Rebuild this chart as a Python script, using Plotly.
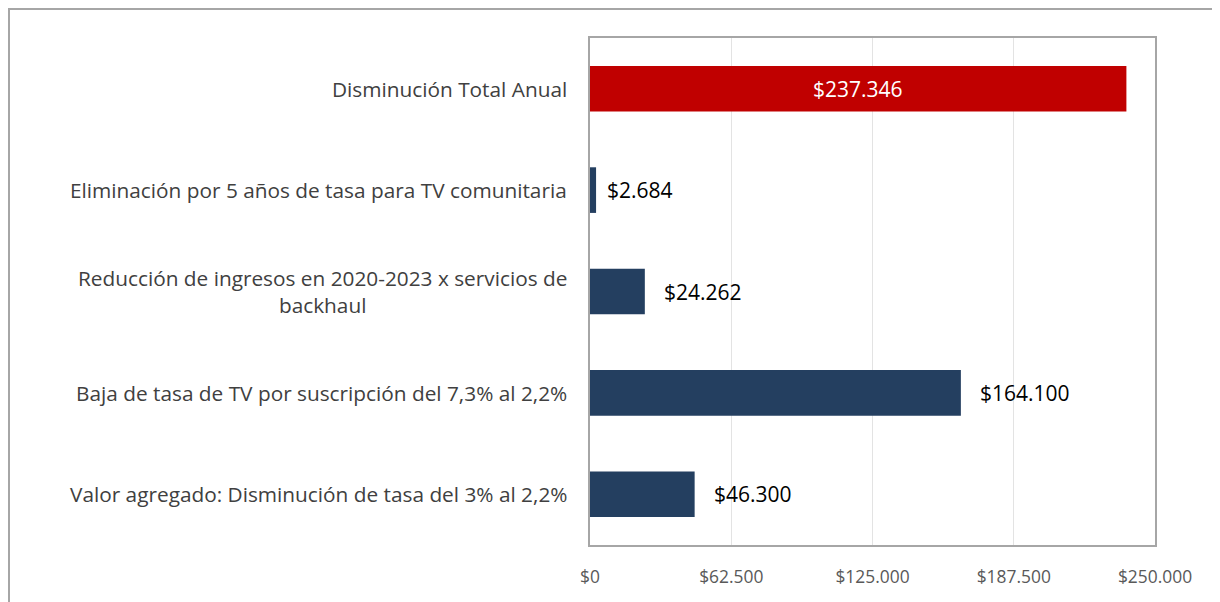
import plotly.graph_objects as go

categories = [
    "Disminución Total Anual",
    "Eliminación por 5 años de tasa para TV comunitaria",
    "Reducción de ingresos en 2020-2023 x servicios de<br>backhaul",
    "Baja de tasa de TV por suscripción del 7,3% al 2,2%",
    "Valor agregado: Disminución de tasa del 3% al 2,2%",
]
values = [237346, 2684, 24262, 164100, 46300]
colors = ["#C00000", "#243F60", "#243F60", "#243F60", "#243F60"]
tick_vals = [0, 62500, 125000, 187500, 250000]

# page body has an 8px margin, so the figure is sized to fit the window
W, H = 1212, 594
ML, MR, MT, MB = 582, 65, 30, 57
FONT = "Open Sans"

def money(v):
    return "$" + f"{v:,.0f}".replace(",", ".")

fig = go.Figure()
fig.add_trace(go.Bar(
    y=list(range(len(categories))),
    x=values,
    orientation="h",
    marker=dict(color=colors, line=dict(width=0)),
    hoverinfo="skip",
    showlegend=False,
))

annotations = []
for i, (c, v) in enumerate(zip(categories, values)):
    annotations.append(dict(
        x=0, xref="paper", y=i, yref="y", text=c, showarrow=False,
        xanchor="right", yanchor="middle", align="center", xshift=-21,
        font=dict(family=FONT, size=20.8, color="#404040"),
    ))
    if i == 0:
        annotations.append(dict(
            x=v / 2, xref="x", y=i, yref="y", text=money(v), showarrow=False,
            xanchor="center", yanchor="middle",
            font=dict(family=FONT, size=21, color="#FFFFFF"),
        ))
    else:
        annotations.append(dict(
            x=v, xref="x", y=i, yref="y", text=money(v), showarrow=False,
            xanchor="left", yanchor="middle", xshift=9 if v < 10000 else 17,
            font=dict(family=FONT, size=21, color="#000000"),
        ))

pw = W - ML - MR
ph = H - MT - MB
def px_x(p):
    return (p - ML) / pw
def px_y(p):
    return (H - MB - p) / ph

shapes = [
    dict(type="line", xref="paper", yref="paper",
         x0=px_x(1), x1=px_x(1), y0=px_y(H + 2), y1=px_y(1),
         line=dict(color="#A6A6A6", width=2)),
    dict(type="line", xref="paper", yref="paper",
         x0=px_x(0), x1=px_x(W + 2), y0=px_y(1), y1=px_y(1),
         line=dict(color="#A6A6A6", width=2)),
]

fig.update_layout(
    width=W, height=H,
    margin=dict(l=ML, r=MR, t=MT, b=MB),
    paper_bgcolor="white", plot_bgcolor="white",
    separators=",.",
    bargap=0.55,
    font=dict(family=FONT, size=17.4, color="#595959"),
    annotations=annotations,
    shapes=shapes,
    xaxis=dict(
        range=[0, 250000], tickvals=tick_vals, tickformat="$,.0f",
        showgrid=True, gridcolor="#E3E3E3", gridwidth=1,
        showline=True, linecolor="#A6A6A6", linewidth=2, mirror=True,
        zeroline=False, ticks="", ticklabelstandoff=15,
        tickfont=dict(family=FONT, size=17.4, color="#595959"),
        fixedrange=True,
    ),
    yaxis=dict(
        range=[len(categories) - 0.5, -0.5],
        showticklabels=False, showgrid=False, zeroline=False,
        showline=True, linecolor="#A6A6A6", linewidth=2, mirror=True,
        ticks="", fixedrange=True,
    ),
)

fig.write_html("out.html")
